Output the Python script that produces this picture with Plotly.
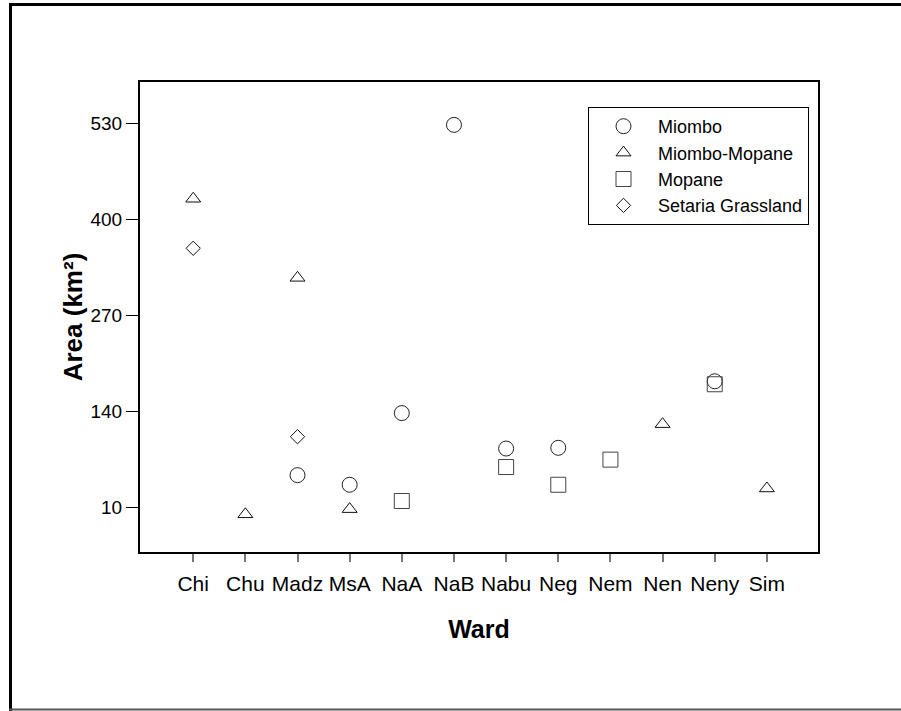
import plotly.graph_objects as go

wards = ["Chi", "Chu", "Madz", "MsA", "NaA", "NaB", "Nabu", "Neg", "Nem", "Nen", "Neny", "Sim"]

miombo_x = ["Madz", "MsA", "NaA", "NaB", "Nabu", "Neg", "Neny"]
miombo_y = [54, 41, 138, 528, 90, 91, 181]

mm_x = ["Chi", "Chu", "Madz", "MsA", "Nen", "Sim"]
mm_y = [428, 1, 321, 8, 123, 36]

mopane_x = ["NaA", "Nabu", "Neg", "Nem", "Neny"]
mopane_y = [19, 65, 41, 75, 177]

setaria_x = ["Chi", "Madz"]
setaria_y = [361, 106]

y_ticks = [10, 140, 270, 400, 530]

W, H = 901, 711
L, R, T, B = 140, 818, 82, 552

fig = go.Figure()
fig.add_trace(go.Scatter(x=miombo_x, y=miombo_y, mode="markers", name="Miombo",
                         marker=dict(symbol="circle-open", size=15, color="#222222", line=dict(width=1))))
fig.add_trace(go.Scatter(x=mm_x, y=mm_y, mode="markers", name="Miombo-Mopane",
                         marker=dict(symbol="triangle-up-open", size=13, color="#111111", line=dict(width=1))))
fig.add_trace(go.Scatter(x=mopane_x, y=mopane_y, mode="markers", name="Mopane",
                         marker=dict(symbol="square-open", size=15, color="#444444", line=dict(width=1))))
fig.add_trace(go.Scatter(x=setaria_x, y=setaria_y, mode="markers", name="Setaria Grassland",
                         marker=dict(symbol="diamond-open", size=11, color="#111111", line=dict(width=1))))

def px_x(p):
    return (p - L) / (R - L)

def px_y(p):
    return (B - p) / (B - T)

shapes = [
    dict(type="line", xref="paper", yref="paper", x0=px_x(10.5), x1=px_x(10.5), y0=px_y(3), y1=px_y(711),
         line=dict(color="black", width=3)),
    dict(type="line", xref="paper", yref="paper", x0=px_x(9), x1=px_x(905), y0=px_y(4.5), y1=px_y(4.5),
         line=dict(color="black", width=3)),
    dict(type="line", xref="paper", yref="paper", x0=px_x(9), x1=px_x(905), y0=px_y(709.5), y1=px_y(709.5),
         line=dict(color="#555555", width=2)),
]

fig.update_layout(
    width=W, height=H,
    margin=dict(l=L, r=W - R, t=T, b=H - B),
    paper_bgcolor="white", plot_bgcolor="white",
    font=dict(family="Liberation Sans, Arial, sans-serif", color="black", size=16),
    showlegend=True,
    legend=dict(x=px_x(588), y=px_y(107), xanchor="left", yanchor="top",
                bordercolor="black", borderwidth=1, bgcolor="white",
                font=dict(size=18), itemwidth=59, tracegroupgap=0),
    shapes=shapes,
    xaxis=dict(type="category", categoryorder="array", categoryarray=wards,
               range=[-1.02, 11.98], showgrid=False, zeroline=False,
               showline=True, linecolor="black", linewidth=2, mirror=True,
               ticks="outside", ticklen=8, tickwidth=2, tickcolor="#777777",
               tickfont=dict(size=21), ticklabelstandoff=4,
               title=dict(text="<b>Ward</b>", font=dict(size=25), standoff=26)),
    yaxis=dict(range=[-50, 586], tickvals=y_ticks, ticktext=[str(v) for v in y_ticks],
               showgrid=False, zeroline=False,
               showline=True, linecolor="black", linewidth=2, mirror=True,
               ticks="outside", ticklen=12, tickwidth=1, tickcolor="black",
               tickfont=dict(size=19),
               title=dict(text="<b>Area (km²)</b>", font=dict(size=26), standoff=0)),
)

fig.write_html("out.html", config={"displayModeBar": False},
               post_script="document.body.style.margin='0';document.body.style.overflow='hidden';")
